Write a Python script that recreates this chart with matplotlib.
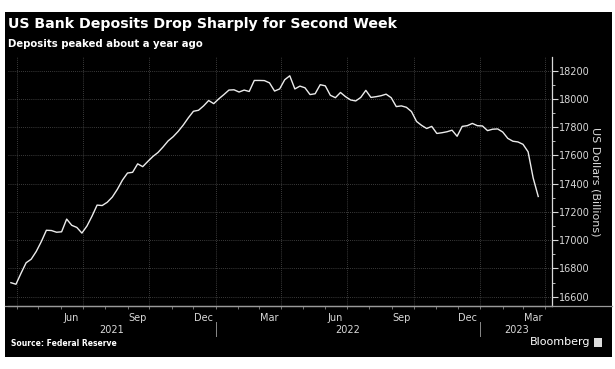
import pandas as pd
import matplotlib
matplotlib.use('Agg')
import matplotlib.pyplot as plt
import matplotlib.dates as mdates
from matplotlib.patches import Rectangle
from matplotlib.lines import Line2D
from matplotlib.ticker import MultipleLocator
import matplotlib.transforms as mtransforms

# weekly deposits, US$ billions
start_date = '2021-03-24'
deposits = [16699, 16688, 16766, 16840, 16865, 16920, 16990, 17070, 17068, 17056,
            17059, 17149, 17105, 17090, 17050, 17100, 17170, 17248, 17245, 17268,
            17305, 17360, 17425, 17475, 17480, 17540, 17520, 17557, 17592, 17620,
            17659, 17702, 17732, 17770, 17815, 17866, 17912, 17919, 17950, 17988,
            17966, 18000, 18030, 18062, 18064, 18048, 18062, 18052, 18130, 18130,
            18129, 18113, 18055, 18070, 18135, 18163, 18070, 18090, 18078, 18030,
            18036, 18100, 18092, 18025, 18008, 18045, 18015, 17992, 17985, 18010,
            18060, 18010, 18015, 18022, 18033, 18008, 17945, 17950, 17940, 17910,
            17840, 17812, 17790, 17805, 17755, 17760, 17767, 17778, 17735, 17805,
            17810, 17826, 17810, 17808, 17775, 17785, 17787, 17765, 17720, 17700,
            17695, 17678, 17625, 17440, 17309]
dates = pd.date_range(start_date, periods=len(deposits), freq='7D')

years = ['2021', '2022', '2023']
year_breaks = ['2022-01-01', '2023-01-01']
y_ticks = [16600, 16800, 17000, 17200, 17400, 17600, 17800, 18000, 18200]

title = 'US Bank Deposits Drop Sharply for Second Week'
subtitle = 'Deposits peaked about a year ago'
source = 'Source: Federal Reserve'

fg = '#d9d9d9'
grid_c = '#4f4f4f'

fig = plt.figure(figsize=(6.15, 3.69), dpi=100, facecolor='white')
fig.patches.append(Rectangle((5/615, 1-357/369), 607/615, 345/369,
                             transform=fig.transFigure, facecolor='black',
                             edgecolor='none', zorder=-5))

ax = fig.add_axes([8/615, 1-306/369, 544/615, 249/369])
ax.set_facecolor('black')

ax.plot(dates, deposits, color='#ececec', lw=1.0, zorder=3)

xmin = pd.Timestamp('2021-03-20')
xmax = pd.Timestamp('2023-04-10')
ax.set_xlim(xmin, xmax)
ax.set_ylim(16534, 18296)

# grid
for q in pd.date_range('2021-04-01', '2023-04-01', freq='QS'):
    ax.axvline(q, color=grid_c, lw=0.6, ls=(0, (1, 1.5)), zorder=1)
for v in y_ticks:
    ax.axhline(v, color=grid_c, lw=0.6, ls=(0, (1, 1.5)), zorder=1)

# y axis on the right
ax.yaxis.tick_right()
ax.set_yticks(y_ticks)
ax.yaxis.set_minor_locator(MultipleLocator(100))
ax.tick_params(axis='y', which='major', colors=fg, labelsize=7, length=4, width=0.8, pad=1)
ax.tick_params(axis='y', which='minor', colors=fg, length=2, width=0.6)
ax.yaxis.set_label_position('right')
ax.set_ylabel('US Dollars (Billions)', color=fg, fontsize=8, rotation=270, labelpad=8)

# x axis: month labels in the middle of the month
ax.xaxis.set_major_locator(mdates.MonthLocator(bymonth=[3, 6, 9, 12], bymonthday=15))
ax.xaxis.set_major_formatter(mdates.DateFormatter('%b'))
ax.xaxis.set_minor_locator(mdates.MonthLocator())
ax.tick_params(axis='x', which='major', colors=fg, labelsize=7, length=0, pad=5)
ax.tick_params(axis='x', which='minor', colors='#888888', length=2, width=0.6, direction='out')

for s in ['top', 'left']:
    ax.spines[s].set_visible(False)
ax.spines['right'].set_color(fg)
ax.spines['right'].set_linewidth(0.9)
ax.spines['bottom'].set_color('#9a9a9a')
ax.spines['bottom'].set_linewidth(0.9)

# bottom rule runs on to the panel edge
fig.lines.append(Line2D([5/615, 612/615], [1-306/369, 1-306/369],
                        transform=fig.transFigure, color='#9a9a9a', lw=0.9))

# year labels and separators
trans = mtransforms.blended_transform_factory(ax.transData, ax.transAxes)
edges = [xmin] + [pd.Timestamp(b) for b in year_breaks] + [xmax]
for i, yr in enumerate(years):
    mid = edges[i] + (edges[i+1] - edges[i]) / 2
    ax.text(mid, -0.098, yr, transform=trans, color=fg, fontsize=7,
            ha='center', va='center')
for b in year_breaks:
    ax.plot([pd.Timestamp(b)] * 2, [-0.064, -0.12], transform=trans,
            color='#8a8a8a', lw=0.7, clip_on=False)

# titles and footer
fig.text(8/615, 1-24/369, title, color='white', fontsize=10.2, fontweight='bold',
         va='center', ha='left')
fig.text(8/615, 1-44/369, subtitle, color='white', fontsize=7.3, fontweight='bold',
         va='center', ha='left')
fig.text(11/615, 1-343/369, source, color='white', fontsize=5.5, fontweight='bold',
         va='center', ha='left')
fig.text(590/615, 1-342/369, 'Bloomberg', color='white', fontsize=8,
         va='center', ha='right')
fig.patches.append(Rectangle((594/615, 1-347/369), 8/615, 9/369,
                             transform=fig.transFigure, facecolor='#dddddd',
                             edgecolor='none'))

fig.savefig('out.png', dpi=100, facecolor='white')
